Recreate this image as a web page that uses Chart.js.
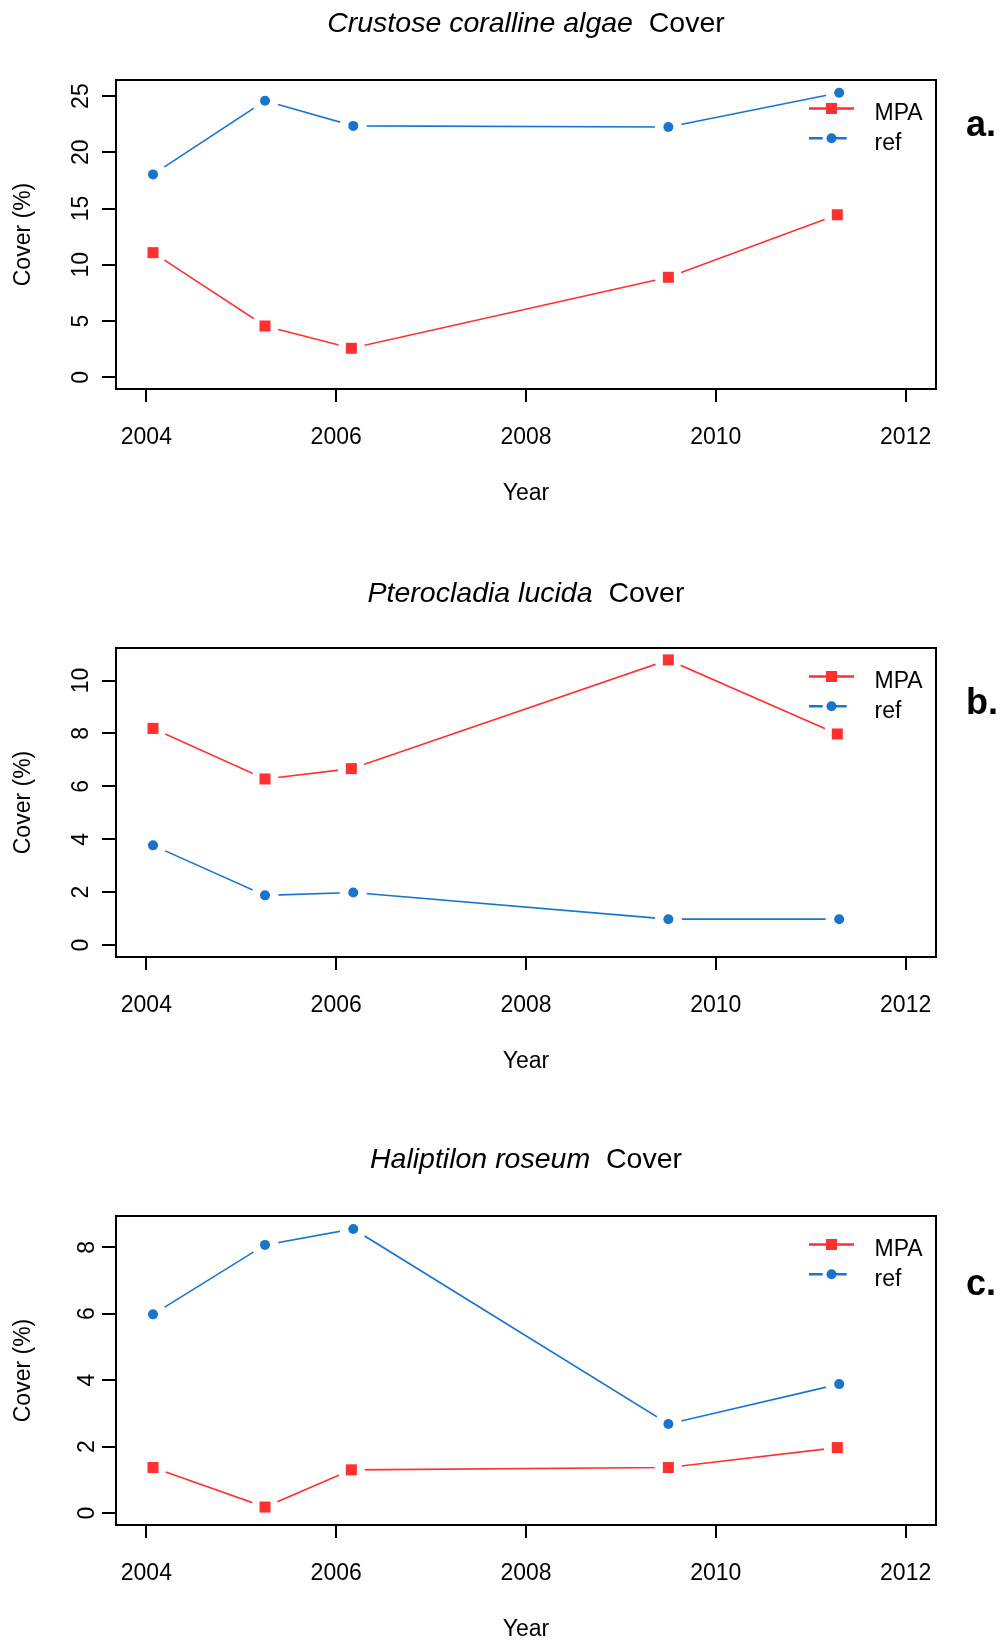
<!DOCTYPE html>
<html>
<head>
<meta charset="utf-8">
<script src="https://cdn.jsdelivr.net/npm/chart.js@4.4.1/dist/chart.umd.min.js"></script>
<style>
  html, body { margin: 0; padding: 0; background: #fff; overflow: hidden; }
  #page { position: relative; width: 1007px; height: 1640px; overflow: hidden; }
  .panel { position: absolute; left: 0; width: 1007px; height: 560px; }
</style>
</head>
<body>
<div id="page">
  <div class="panel" style="top:0px"><canvas id="chartA" width="1007" height="560"></canvas></div>
  <div class="panel" style="top:568px"><canvas id="chartB" width="1007" height="560"></canvas></div>
  <div class="panel" style="top:1136px"><canvas id="chartC" width="1007" height="560"></canvas></div>
</div>
<script>
// survey dates as decimal years
const mpaYears = [2004.07, 2005.25, 2006.16, 2009.50, 2011.28];
const refYears = [2004.07, 2005.25, 2006.18, 2009.50, 2011.30];
const yearTicks = [2004, 2006, 2008, 2010, 2012];

// a. crustose coralline algae
const ccaMPA = [11.08, 4.56, 2.58, 8.89, 14.45];
const ccaRef = [18.04, 24.58, 22.35, 22.25, 25.30];
const ccaTicks = [0, 5, 10, 15, 20, 25];

// b. Pterocladia lucida
const pteroMPA = [8.19, 6.28, 6.67, 10.78, 7.98];
const pteroRef = [3.77, 1.88, 1.99, 0.98, 0.98];
const pteroTicks = [0, 2, 4, 6, 8, 10];

// c. Haliptilon roseum
const haliMPA = [1.37, 0.18, 1.30, 1.37, 1.97];
const haliRef = [5.98, 8.07, 8.55, 2.68, 3.88];
const haliTicks = [0, 2, 4, 6, 8];

const seriesNames = ['MPA', 'ref'];

const FONT = "'Liberation Sans', Arial, Helvetica, sans-serif";
const RED = '#FF3030';
const BLUE = '#1874CD';

Chart.defaults.font.family = FONT;
Chart.defaults.color = '#000';

// line + white halo (gives the gapped "type b" look) + markers
function seriesSets(xs, ys, color, style, radius, name) {
  const pts = xs.map((x, i) => ({ x: x, y: ys[i] }));
  return [
    { label: name, data: pts, borderColor: color, borderWidth: 1.6, tension: 0,
      pointRadius: 0, pointHoverRadius: 0, fill: false, order: 2 },
    { label: name + '-gap', data: pts, showLine: false, pointRadius: 13.5, pointHoverRadius: 13.5,
      pointBackgroundColor: '#fff', pointBorderWidth: 0, order: 1 },
    { label: name + '-pt', data: pts, showLine: false, pointStyle: style,
      pointRadius: radius, pointHoverRadius: radius,
      pointBackgroundColor: color, pointBorderWidth: 0, order: 0 }
  ];
}

// box, title, legend and panel tag
const decorPlugin = {
  id: 'decor',
  afterDraw(chart, args, opts) {
    const ctx = chart.ctx;
    const ca = chart.chartArea;
    ctx.save();

    // frame
    ctx.strokeStyle = '#000';
    ctx.lineWidth = 2;
    ctx.strokeRect(ca.left, ca.top, ca.right - ca.left, ca.bottom - ca.top);

    // title: italic species name + plain "Cover"
    ctx.fillStyle = '#000';
    ctx.textAlign = 'left';
    ctx.textBaseline = 'alphabetic';
    ctx.font = 'italic 28.5px ' + FONT;
    const w1 = ctx.measureText(opts.species).width;
    ctx.font = '28.5px ' + FONT;
    const w2 = ctx.measureText('  Cover').width;
    const x0 = (ca.left + ca.right) / 2 - (w1 + w2) / 2;
    const ty = ca.top - opts.titleGap;
    ctx.font = 'italic 28.5px ' + FONT;
    ctx.fillText(opts.species, x0, ty);
    ctx.font = '28.5px ' + FONT;
    ctx.fillText('  Cover', x0 + w1, ty);

    // legend
    const rows = [
      { name: seriesNames[0], color: RED, style: 'rect', r: 7.8, dash: [] },
      { name: seriesNames[1], color: BLUE, style: 'circle', r: 5, dash: [13.7, 10.3] }
    ];
    rows.forEach((row, i) => {
      const y = ca.top + 28.5 + i * 29.8;
      ctx.strokeStyle = row.color;
      ctx.lineWidth = 2.6;
      ctx.setLineDash(row.dash);
      ctx.beginPath();
      ctx.moveTo(ca.right - 127, y);
      ctx.lineTo(ca.right - 82, y);
      ctx.stroke();
      ctx.setLineDash([]);
      ctx.fillStyle = row.color;
      Chart.helpers.drawPoint(ctx, { pointStyle: row.style, radius: row.r, borderWidth: 0, rotation: 0 },
        ca.right - 104.5, y);
      ctx.fillStyle = '#000';
      ctx.font = '23px ' + FONT;
      ctx.textBaseline = 'middle';
      ctx.fillText(row.name, ca.right - 61.5, y + 5);
    });

    // panel tag
    ctx.font = 'bold 36px ' + FONT;
    ctx.textBaseline = 'alphabetic';
    ctx.fillText(opts.tag, 966, opts.tagY);
    ctx.restore();
  }
};

function makePanel(canvasId, species, tag, tagY, titleGap, mpa, ref, yTicks, yMin, yMax) {
  const tickFont = { size: 23, family: FONT };
  new Chart(document.getElementById(canvasId), {
    type: 'line',
    data: {
      datasets: [
        ...seriesSets(mpaYears, mpa, RED, 'rect', 7.8, seriesNames[0]),
        ...seriesSets(refYears, ref, BLUE, 'circle', 5, seriesNames[1])
      ]
    },
    options: {
      responsive: false,
      animation: false,
      events: [],
      layout: { padding: { top: 80, right: 71, left: 0, bottom: 0 } },
      plugins: {
        legend: { display: false },
        tooltip: { enabled: false },
        decor: { species: species, tag: tag, tagY: tagY, titleGap: titleGap }
      },
      scales: {
        x: {
          type: 'linear',
          min: 2003.68,
          max: 2012.32,
          afterBuildTicks: s => { s.ticks = yearTicks.map(v => ({ value: v })); },
          afterFit: s => { s.height = 171; },
          ticks: { font: tickFont, color: '#000', padding: 22, autoSkip: false,
                   maxRotation: 0, callback: v => String(v) },
          grid: { drawOnChartArea: false, drawTicks: true, tickLength: 13, color: '#000', lineWidth: 2 },
          border: { display: false },
          title: { display: true, text: 'Year', font: tickFont, color: '#000',
                   padding: { top: 0, bottom: 53 } }
        },
        y: {
          type: 'linear',
          min: yMin,
          max: yMax,
          afterBuildTicks: s => { s.ticks = yTicks.map(v => ({ value: v })); },
          afterFit: s => { s.width = 116; },
          ticks: { font: tickFont, color: '#000', padding: 8, autoSkip: false,
                   minRotation: 90, maxRotation: 90, crossAlign: 'center',
                   callback: v => String(v) },
          grid: { drawOnChartArea: false, drawTicks: true, tickLength: 14, color: '#000', lineWidth: 2 },
          border: { display: false },
          title: { display: true, text: 'Cover (%)', font: tickFont, color: '#000',
                   padding: { top: 9.5, bottom: 0 } }
        }
      }
    },
    plugins: [decorPlugin]
  });
}

makePanel('chartA', 'Crustose coralline algae', 'a.', 136, 48, ccaMPA, ccaRef, ccaTicks, -1.04, 26.43);
makePanel('chartB', 'Pterocladia lucida', 'b.', 146, 46, pteroMPA, pteroRef, pteroTicks, -0.45, 11.23);
makePanel('chartC', 'Haliptilon roseum', 'c.', 158.5, 48, haliMPA, haliRef, haliTicks, -0.36, 8.94);
</script>
</body>
</html>
